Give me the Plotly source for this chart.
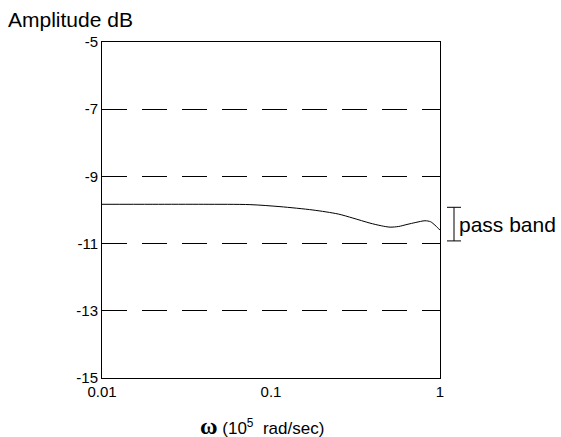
import plotly.graph_objects as go

# Data
omega = [0.01, 0.02, 0.04, 0.075, 0.113, 0.177, 0.25, 0.305, 0.385, 0.45, 0.506, 0.57, 0.638, 0.72, 0.815, 0.88, 0.933, 0.97, 1.0]
amp_db = [-9.83, -9.83, -9.83, -9.84, -9.90, -10.00, -10.12, -10.24, -10.39, -10.47, -10.51, -10.49, -10.43, -10.37, -10.32, -10.35, -10.45, -10.53, -10.60]

y_ticks = [-15, -13, -11, -9, -7, -5]
y_tick_labels = ["-15", "-13", "-11", "-9", "-7", "-5"]
x_ticks = [0.01, 0.1, 1]
x_tick_labels = ["0.01", "0.1", "1"]

passband_top = -9.92
passband_bottom = -10.92
passband_label = "pass band"

FONT = "Liberation Sans, Arial, sans-serif"

fig = go.Figure()
fig.add_trace(go.Scatter(
    x=omega, y=amp_db, mode="lines",
    line=dict(color="black", width=1, shape="spline", smoothing=0.8),
    showlegend=False, hoverinfo="skip",
))

fig.update_layout(
    width=561, height=437,
    margin=dict(l=102, r=121, t=42, b=59),
    paper_bgcolor="white", plot_bgcolor="white",
    font=dict(family=FONT, size=15, color="black"),
    xaxis=dict(
        type="log", range=[-2, 0],
        tickvals=x_ticks, ticktext=x_tick_labels,
        showgrid=False, zeroline=False,
        showline=True, mirror=True, linecolor="black", linewidth=1,
        ticks="", tickfont=dict(size=15),
    ),
    yaxis=dict(
        range=[-15, -5],
        tickvals=y_ticks, ticktext=y_tick_labels,
        showgrid=True, gridcolor="black", gridwidth=1, griddash="25px,15px",
        zeroline=False,
        showline=True, mirror=True, linecolor="black", linewidth=1,
        ticks="", tickfont=dict(size=15),
    ),
)

# x-axis title
fig.add_annotation(
    text="<b><span style='font-family:Liberation Serif;font-size:24px'>ω</span></b> (10<sup>5</sup>  rad/sec)",
    xref="paper", yref="paper", x=(262 - 102) / 338, y=-48 / 336,
    xanchor="center", yanchor="middle", showarrow=False, font=dict(size=17),
)

# title at top-left
fig.add_annotation(
    text="Amplitude dB", xref="paper", yref="paper",
    x=-96 / 338, y=1 + 23 / 336, xanchor="left", yanchor="middle",
    showarrow=False, font=dict(size=21),
)

# pass band marker
xm = (454 - 102) / 338
xc0 = (447 - 102) / 338
xc1 = (461 - 102) / 338
fig.add_shape(type="line", xref="paper", yref="y", x0=xm, x1=xm,
              y0=passband_top, y1=passband_bottom, line=dict(color="black", width=1))
for yy in (passband_top, passband_bottom):
    fig.add_shape(type="line", xref="paper", yref="y", x0=xc0, x1=xc1,
                  y0=yy, y1=yy, line=dict(color="black", width=1))
fig.add_annotation(
    text=passband_label, xref="paper", yref="y",
    x=(457 - 102) / 338, y=(passband_top + passband_bottom) / 2,
    xanchor="left", yanchor="middle", showarrow=False, font=dict(size=21),
)

fig.write_html("out.html")
